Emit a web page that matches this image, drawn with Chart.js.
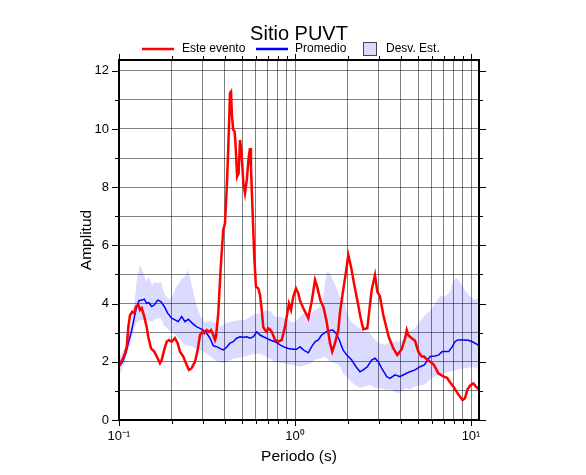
<!DOCTYPE html>
<html><head><meta charset="utf-8">
<script src="https://cdn.jsdelivr.net/npm/chart.js@4/dist/chart.umd.min.js"></script>
<style>html,body{margin:0;padding:0;background:#fff}canvas{display:block}</style>
</head><body>
<canvas id="c" width="586" height="475"></canvas>
<script>
const titulo = "Sitio PUVT";
const etiquetasLeyenda = ["Este evento", "Promedio", "Desv. Est."];
const tituloX = "Periodo (s)";
const tituloY = "Amplitud";
const ticksX = [0.1,0.2,0.3,0.4,0.5,0.6,0.7,0.8,0.9,1,2,3,4,5,6,7,8,9,10];
const etiquetasX = {"0.1":"10\u207B\u00B9","1":"10\u2070","10":"10\u00B9"};
const ticksY = [0,1,2,3,4,5,6,7,8,9,10,11,12];

const eventoPeriodo = [0.100,0.1026,0.1055,0.1082,0.1107,0.1130,0.1155,0.1190,0.1224,0.1247,0.1290,0.1316,0.1346,0.1392,0.1436,0.1466,0.1520,0.1586,0.1658,0.1709,0.1747,0.1807,0.1866,0.1923,0.1992,0.2080,0.2155,0.2221,0.2319,0.2424,0.2498,0.2585,0.2702,0.2800,0.2885,0.2972,0.3052,0.3148,0.3245,0.3331,0.3434,0.351,0.3557,0.3665,0.378,0.391,0.400,0.409,0.418,0.4272,0.4328,0.4385,0.446,0.454,0.460,0.469,0.478,0.487,0.4954,0.509,0.520,0.532,0.546,0.555,0.562,0.5745,0.587,0.600,0.619,0.6326,0.647,0.660,0.675,0.690,0.705,0.721,0.737,0.770,0.805,0.841,0.877,0.904,0.924,0.949,0.978,1.013,1.044,1.068,1.115,1.190,1.244,1.299,1.333,1.400,1.448,1.513,1.581,1.628,1.687,1.763,1.801,1.866,1.949,2.008,2.080,2.163,2.258,2.361,2.444,2.575,2.726,2.847,2.934,3.040,3.175,3.405,3.619,3.812,4.038,4.217,4.313,4.413,4.608,4.806,5.021,5.244,5.407,5.674,5.970,6.163,6.52,6.96,7.306,7.598,7.93,8.47,8.95,9.25,9.54,9.93,10.30,10.68,11.10];
const eventoAmp = [1.86,2.0,2.12,2.3,2.52,3.2,3.6,3.72,3.67,3.9,3.95,3.78,3.84,3.55,3.2,2.86,2.46,2.35,2.12,1.95,2.06,2.41,2.69,2.75,2.69,2.81,2.64,2.35,2.18,1.89,1.72,1.78,2.0,2.41,2.92,3.03,2.98,3.09,3.03,3.09,2.92,2.75,2.86,3.67,5.2,6.53,6.76,7.9,9.39,11.23,11.28,10.42,9.97,9.91,9.39,8.36,8.47,9.62,9.28,8.13,7.79,8.25,9.05,9.34,8.7,7.1,5.61,4.58,4.52,4.3,3.78,3.2,3.09,3.03,3.15,3.11,3.03,2.75,2.69,2.75,3.2,3.67,4.0,3.78,4.24,4.52,4.35,4.1,3.84,3.5,4.07,4.81,4.6,4.07,3.9,3.38,2.64,2.35,2.64,3.09,3.7,4.35,5.1,5.67,5.27,4.7,4.12,3.5,3.12,3.15,4.47,4.98,4.41,4.24,3.61,2.86,2.46,2.23,2.43,2.8,3.09,2.9,2.81,2.72,2.35,2.18,2.18,2.06,1.97,1.89,1.6,1.5,1.45,1.3,1.15,0.88,0.69,0.75,1.05,1.2,1.26,1.15,1.05];

const promedioPeriodo = [0.100,0.1048,0.1093,0.1130,0.1181,0.1224,0.1262,0.1299,0.1346,0.1392,0.1436,0.1480,0.1532,0.1586,0.1658,0.1731,0.1807,0.1890,0.1992,0.2080,0.2171,0.2270,0.2371,0.2477,0.2613,0.2765,0.2885,0.3009,0.3148,0.3288,0.3434,0.3589,0.3747,0.391,0.409,0.4272,0.446,0.466,0.487,0.509,0.532,0.555,0.580,0.606,0.6326,0.660,0.690,0.721,0.770,0.822,0.858,0.916,0.978,1.022,1.068,1.115,1.190,1.244,1.299,1.356,1.416,1.480,1.546,1.637,1.709,1.785,1.874,1.969,2.099,2.221,2.340,2.444,2.575,2.726,2.847,2.973,3.107,3.319,3.465,3.700,3.949,4.217,4.501,4.806,5.131,5.428,5.674,5.848,6.244,6.52,6.87,7.46,7.83,8.11,8.40,9.03,9.66,10.17,10.78,11.10];
const promedioAmp = [1.83,2.0,2.29,2.64,3.09,3.55,3.9,4.1,4.12,4.15,4.01,4.03,3.9,3.95,4.12,4.07,3.9,3.67,3.5,3.44,3.38,3.55,3.38,3.46,3.32,3.2,3.15,3.09,2.98,2.81,2.55,2.52,2.46,2.41,2.5,2.64,2.69,2.81,2.86,2.84,2.86,2.81,2.86,3.03,2.92,2.86,2.81,2.75,2.69,2.58,2.52,2.46,2.43,2.43,2.52,2.41,2.31,2.52,2.69,2.75,2.92,3.0,3.07,3.09,2.98,2.75,2.41,2.23,2.06,1.83,1.66,1.72,1.83,2.06,2.12,2.0,1.78,1.49,1.43,1.55,1.49,1.58,1.66,1.72,1.83,1.89,2.06,2.18,2.2,2.23,2.35,2.35,2.52,2.69,2.75,2.75,2.74,2.69,2.61,2.56];

const bandaPeriodo = [0.100,0.1040,0.1082,0.1125,0.1170,0.1217,0.1265,0.1316,0.1369,0.1423,0.1480,0.1540,0.1601,0.1665,0.1731,0.1800,0.1873,0.1948,0.2026,0.2108,0.2192,0.2280,0.2371,0.2466,0.2564,0.2667,0.2774,0.2885,0.3079,0.3288,0.3510,0.3747,0.4000,0.4272,0.4560,0.4870,0.5199,0.5550,0.5926,0.6326,0.6754,0.7211,0.7698,0.8219,0.8775,0.9367,1.000,1.068,1.140,1.217,1.299,1.387,1.442,1.480,1.520,1.581,1.643,1.709,1.801,1.874,1.949,2.053,2.192,2.340,2.498,2.667,2.847,3.040,3.245,3.465,3.699,3.949,4.216,4.501,4.806,5.131,5.478,5.848,6.244,6.666,7.117,7.598,7.904,8.219,8.660,9.245,9.870,10.54,11.10];
const bandaSup = [2.1,2.3,2.5,2.86,3.3,3.9,4.85,5.33,5.1,4.75,4.92,4.64,4.75,4.7,4.75,4.4,4.2,4.15,4.3,4.55,4.7,4.85,4.95,5.15,4.75,4.3,3.9,3.6,3.35,3.4,3.32,3.2,3.32,3.38,3.4,3.44,3.44,3.55,3.65,3.65,3.75,3.75,3.55,3.55,3.5,3.4,3.35,3.55,3.72,3.61,3.78,3.9,4.12,4.7,5.1,5.05,4.8,4.6,4.2,4.3,3.8,3.44,3.26,3.15,3.03,2.98,2.75,2.64,2.58,2.7,2.7,2.7,2.85,3.05,3.15,3.4,3.6,3.75,4.0,4.25,4.25,4.4,4.75,4.9,4.75,4.45,4.25,4.12,4.18];
const bandaInf = [1.55,1.72,2.0,2.35,2.65,3.1,3.35,3.44,3.44,3.44,3.42,3.38,3.45,3.5,3.5,3.25,3.15,3.03,2.98,2.9,2.78,2.7,2.58,2.55,2.54,2.48,2.45,2.41,2.3,2.2,2.05,1.97,1.97,2.06,2.12,2.15,2.18,2.23,2.28,2.27,2.2,2.1,2.0,1.97,1.93,1.9,1.88,1.83,1.87,1.93,2.06,2.12,2.15,2.18,2.12,2.0,1.98,1.95,1.85,1.6,1.5,1.35,1.2,1.1,1.15,1.2,1.1,1.1,1.05,1.05,0.95,0.92,1.1,1.05,1.15,1.18,1.22,1.38,1.5,1.55,1.62,1.66,1.7,1.72,1.75,1.78,1.8,1.8,1.72];

const FONT = "'Liberation Sans', Arial, Helvetica, sans-serif";
const ROJO = '#ff0000', AZUL = '#0000ff', BANDA = 'rgba(0,0,255,0.14)';
const pares = (xs, ys) => xs.map((v, i) => ({x: v, y: ys[i]}));

const decor = {
  id: 'decor',
  afterDraw(chart) {
    const {ctx, chartArea: a, scales: {x, y}} = chart;
    ctx.save();
    ctx.strokeStyle = '#000';
    ctx.lineWidth = 1;
    const seg = (x1, y1, x2, y2) => { ctx.beginPath(); ctx.moveTo(x1, y1); ctx.lineTo(x2, y2); ctx.stroke(); };
    ticksX.forEach(v => {
      const px = Math.round(x.getPixelForValue(v)) + 0.5;
      const L = etiquetasX[String(v)] ? 6 : 4;
      seg(px, a.top, px, a.top - L);
      seg(px, a.bottom, px, a.bottom + L);
    });
    ticksY.forEach(v => {
      const py = Math.round(y.getPixelForValue(v)) + 0.5;
      const L = v % 2 === 0 ? 7 : 4;
      seg(a.left, py, a.left - L, py);
      seg(a.right, py, a.right + L, py);
    });
    ctx.lineWidth = 2;
    ctx.strokeRect(a.left, a.top, a.right - a.left, a.bottom - a.top);

    const cx = (a.left + a.right) / 2;
    ctx.fillStyle = '#000';
    ctx.font = '20px ' + FONT;
    ctx.textAlign = 'center';
    ctx.textBaseline = 'alphabetic';
    ctx.fillText(titulo, cx, 40);

    // legend
    const ly = 49;
    ctx.font = '12px ' + FONT;
    ctx.textAlign = 'left';
    ctx.textBaseline = 'middle';
    ctx.lineWidth = 2.5;
    ctx.strokeStyle = ROJO;
    seg(cx - 157, ly, cx - 125, ly);
    ctx.fillText(etiquetasLeyenda[0], cx - 117, ly);
    ctx.strokeStyle = AZUL;
    seg(cx - 43, ly, cx - 11, ly);
    ctx.fillText(etiquetasLeyenda[1], cx - 4, ly);
    ctx.fillStyle = 'rgb(218,218,252)';
    ctx.fillRect(cx + 64, ly - 6.5, 13, 13);
    ctx.lineWidth = 1;
    ctx.strokeStyle = '#444';
    ctx.strokeRect(cx + 64.5, ly - 6.5, 13, 13);
    ctx.fillStyle = '#000';
    ctx.fillText(etiquetasLeyenda[2], cx + 87, ly);
    ctx.restore();
  }
};

new Chart(document.getElementById('c'), {
  type: 'line',
  data: {
    datasets: [
      {label: etiquetasLeyenda[0], data: pares(eventoPeriodo, eventoAmp), borderColor: ROJO, borderWidth: 2.5, pointRadius: 0, fill: false, tension: 0},
      {label: etiquetasLeyenda[1], data: pares(promedioPeriodo, promedioAmp), borderColor: AZUL, borderWidth: 1.5, pointRadius: 0, fill: false, tension: 0},
      {label: 'inf', data: pares(bandaPeriodo, bandaInf), borderWidth: 0, borderColor: 'rgba(0,0,0,0)', pointRadius: 0, fill: false},
      {label: etiquetasLeyenda[2], data: pares(bandaPeriodo, bandaSup), borderWidth: 0, borderColor: 'rgba(0,0,0,0)', backgroundColor: BANDA, pointRadius: 0, fill: '-1'}
    ]
  },
  options: {
    responsive: false,
    animation: false,
    devicePixelRatio: 1,
    layout: {padding: {top: 60, right: 107, left: 0, bottom: 0}},
    plugins: {legend: {display: false}, title: {display: false}, tooltip: {enabled: false}},
    scales: {
      x: {
        type: 'logarithmic', min: 0.1, max: 11.1,
        afterBuildTicks: s => { s.ticks = ticksX.map(v => ({value: v})); },
        afterFit: s => { s.height = 55; },
        grid: {color: 'rgba(0,0,0,0.5)', lineWidth: 1, drawTicks: false},
        border: {display: false},
        ticks: {autoSkip: false, maxRotation: 0, minRotation: 0, padding: 9, color: '#000',
          font: {family: FONT, size: 13},
          callback: v => etiquetasX[String(v)] || ''},
        title: {display: true, text: tituloX, color: '#000', font: {family: FONT, size: 15.5}, padding: {top: 0, bottom: 9}}
      },
      y: {
        type: 'linear', min: 0, max: 12.37,
        afterBuildTicks: s => { s.ticks = ticksY.map(v => ({value: v})); },
        afterFit: s => { s.width = 119; },
        grid: {color: 'rgba(0,0,0,0.5)', lineWidth: 1, drawTicks: false},
        border: {display: false},
        ticks: {padding: 10, color: '#000', font: {family: FONT, size: 13},
          callback: v => (v % 2 === 0 ? String(v) : '')},
        title: {display: true, text: tituloY, color: '#000', font: {family: FONT, size: 15.5}, padding: {top: 77, bottom: 0}}
      }
    }
  },
  plugins: [decor]
});
</script>
</body></html>
